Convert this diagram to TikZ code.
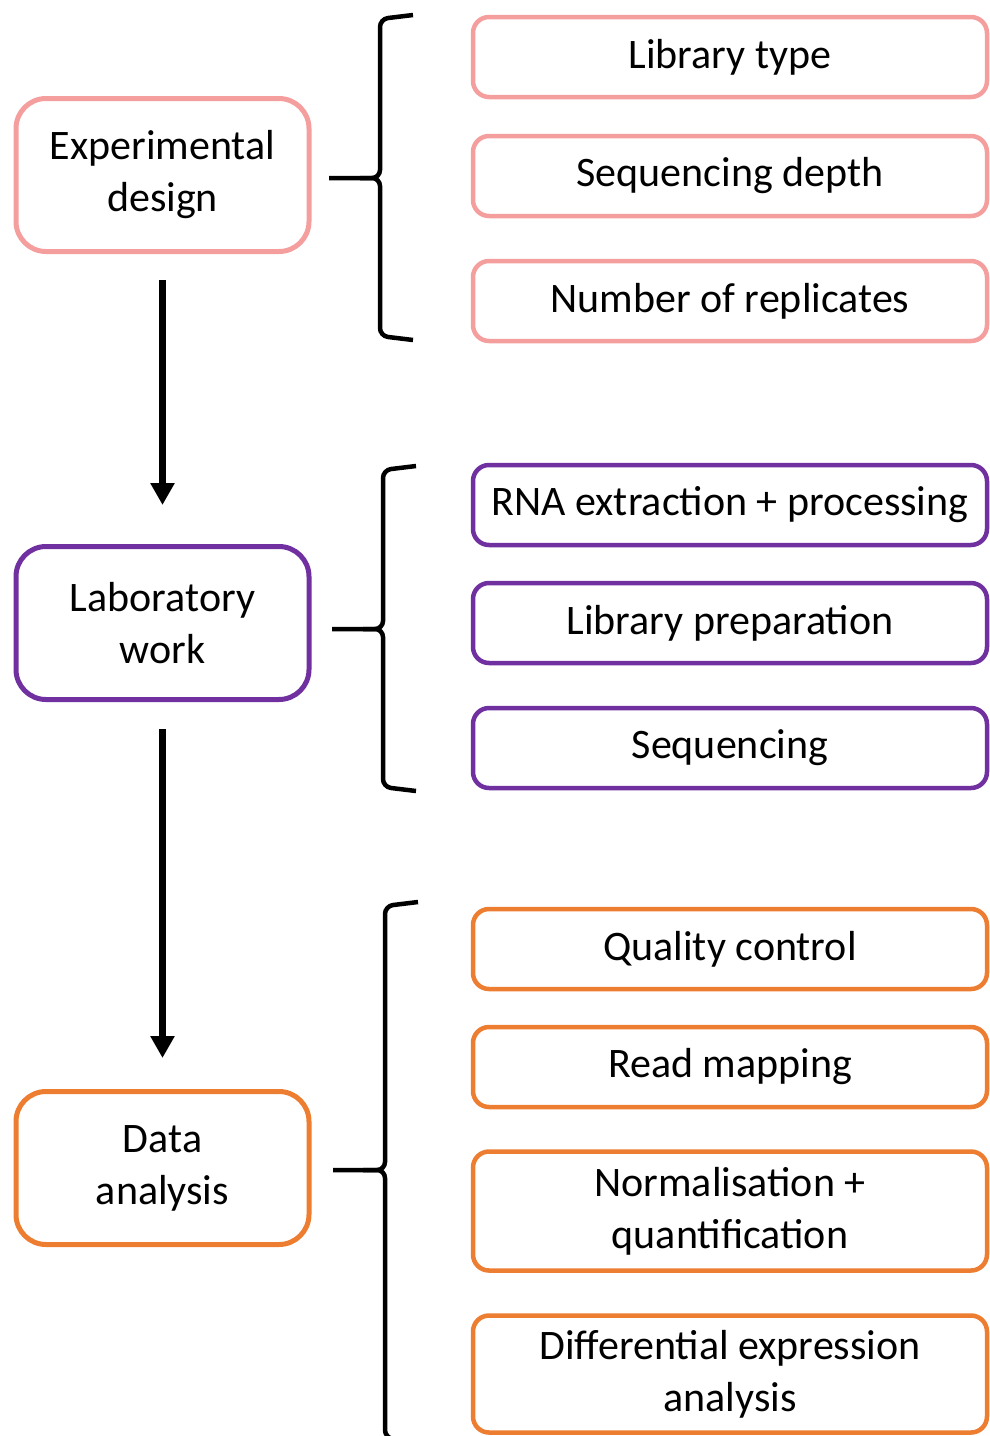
\documentclass[tikz,border=0pt]{standalone}
\usepackage{fontspec}
\setmainfont{Carlito}
\usepackage{tikz}
\usetikzlibrary{arrows.meta}
\definecolor{designpink}{RGB}{244,158,158}
\definecolor{labpurple}{RGB}{112,48,160}
\definecolor{dataorange}{RGB}{237,125,49}

\begin{document}
\begin{tikzpicture}[x=1pt,y=-1pt,>={Triangle[width=23pt,length=22pt]},
  stage/.style={draw,line width=5pt,rounded corners=30pt,minimum width=293pt,minimum height=153pt,align=center,font=\fontsize{42}{52}\selectfont},
  task/.style={draw,line width=4.5pt,rounded corners=16pt,minimum width=514pt,minimum height=80pt,align=center,font=\fontsize{42}{52}\selectfont},
  brace/.style={line width=4.5pt,rounded corners=8pt},
  flow/.style={->,line width=7pt}]
\useasboundingbox (0,0) rectangle (989,1436);

\node[stage,designpink,text=black] (design) at (162.5,175) {Experimental\\design};
\node[stage,labpurple,text=black] (lab) at (162.5,623) {Laboratory\\work};
\node[stage,dataorange,text=black] (analysis) at (162.5,1168) {Data\\analysis};

\draw[flow,shorten <=26pt,shorten >=39pt] (design) -- (lab);
\draw[flow,shorten <=27pt,shorten >=31pt] (lab) -- (analysis);

\node[task,designpink,text=black] (libtype) at (730,57) {Library type};
\node[task,designpink,text=black] (depth) at (730,176) {Sequencing depth};
\node[task,designpink,text=black] (replicates) at (730,301) {Number of replicates};

\node[task,labpurple,text=black] (rna) at (730,505) {RNA extraction + processing};
\node[task,labpurple,text=black] (libprep) at (730,623) {Library preparation};
\node[task,labpurple,text=black] (seq) at (730,748) {Sequencing};

\node[task,dataorange,text=black] (qc) at (730,949) {Quality control};
\node[task,dataorange,text=black] (mapping) at (730,1067) {Read mapping};
\node[task,dataorange,text=black,minimum height=119pt] (norm) at (730,1211) {Normalisation +\\quantification};
\node[task,dataorange,text=black,minimum height=117pt] (dea) at (730,1374) {Differential expression\\analysis};

\draw[brace] (413,15) -- (380,19) -- (380,178) -- (329,178);
\draw[brace] (413,340) -- (380,336) -- (380,178) -- (360,178);

\draw[brace] (416,466) -- (383,470) -- (383,629) -- (332,629);
\draw[brace] (416,791) -- (383,787) -- (383,629) -- (363,629);

\draw[brace] (418,902) -- (385,906) -- (385,1170) -- (333,1170);
\draw[brace] (418,1442) -- (385,1438) -- (385,1170) -- (363,1170);
\end{tikzpicture}
\end{document}
